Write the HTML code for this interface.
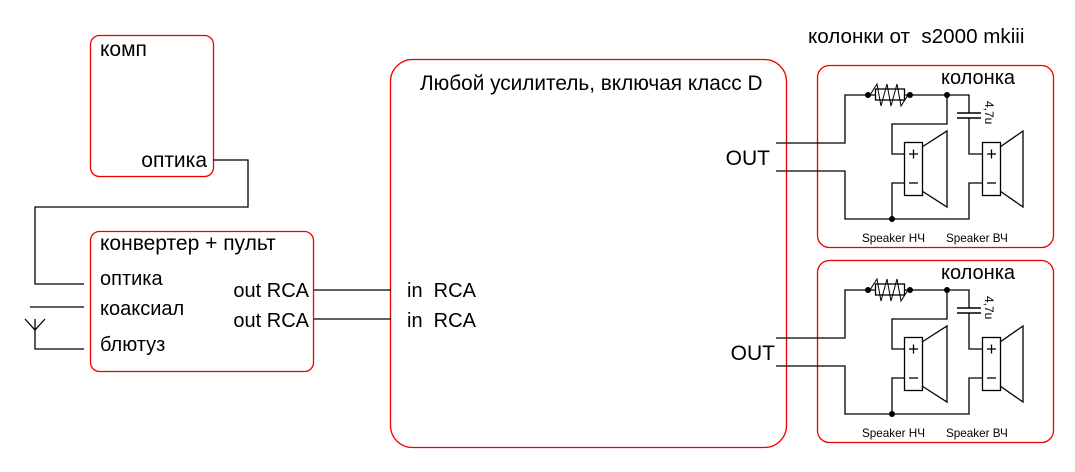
<!DOCTYPE html>
<html><head><meta charset="utf-8"><style>
html,body{margin:0;padding:0;background:#fff;}
svg{display:block;font-family:"Liberation Sans",sans-serif;}
text{white-space:pre;}
</style></head><body>
<svg width="1075" height="472" viewBox="0 0 1075 472" xmlns="http://www.w3.org/2000/svg">
<defs>
<g id="spk" stroke="#000" stroke-width="1.3" fill="none">
  <rect x="817.5" y="65.5" width="236" height="182" rx="12" stroke="#e00"/>
  <polyline points="776,143 845,143 845,95 947,95 969,95 969,113"/>
  <polyline points="776,171 845,171 845,219 969,219 969,183 982,183"/>
  <polyline points="947,95 947,124 892,124 892,154 904,154"/>
  <polyline points="904,183 892,183 892,219"/>
  <polyline points="969,118 969,154 982,154"/>
  <line x1="957" y1="113" x2="981" y2="113" stroke-width="1.5"/>
  <line x1="957" y1="118" x2="981" y2="118" stroke-width="1.5"/>
  <rect x="875.5" y="89" width="29" height="11" fill="#fff"/>
  <polyline points="870,95 877,84 881,106 887,84 891,106 897,84 901,106 908,95" stroke-width="1"/>
  <rect x="904.5" y="142.5" width="18" height="53"/>
  <polyline points="922,147 947,131 947,207 922,191"/>
  <rect x="982.5" y="142.5" width="18" height="53"/>
  <polyline points="1000,147 1023,131 1023,207 1000,191"/>
  <line x1="909" y1="154" x2="918" y2="154"/><line x1="913.5" y1="149.5" x2="913.5" y2="158.5"/>
  <line x1="909" y1="183" x2="918" y2="183"/>
  <line x1="987" y1="154" x2="996" y2="154"/><line x1="991.5" y1="149.5" x2="991.5" y2="158.5"/>
  <line x1="987" y1="183" x2="996" y2="183"/>
  <g fill="#000" stroke="none">
    <circle cx="868" cy="95" r="3"/><circle cx="910" cy="95" r="3"/><circle cx="947" cy="95" r="3"/><circle cx="892" cy="219" r="3"/>
  </g>
  <g stroke="none" fill="#000">
    <text x="941" y="84" font-size="20">колонка</text>
    <text x="862" y="242" font-size="11.7">Speaker НЧ</text>
    <text x="946" y="242" font-size="11.7">Speaker ВЧ</text>
    <text transform="translate(985,101) rotate(90)" font-size="12">4,7u</text>
  </g>
</g>
</defs>
<g fill="none" stroke="#e00" stroke-width="1.3">
  <rect x="90.5" y="35.5" width="123" height="141" rx="9"/>
  <rect x="90.5" y="231.5" width="223" height="140" rx="9"/>
  <rect x="390.5" y="59.5" width="396" height="388" rx="22"/>
</g>
<g fill="none" stroke="#000" stroke-width="1.3">
  <polyline points="213,160 248,160 248,207 35,207 35,284 84,284"/>
  <line x1="30" y1="307" x2="84" y2="307"/>
  <polyline points="25,319 35,330 45,319"/>
  <polyline points="35,319 35,349 84,349"/>
  <line x1="314" y1="290" x2="391" y2="290"/>
  <line x1="314" y1="319" x2="391" y2="319"/>
</g>
<use href="#spk"/>
<use href="#spk" transform="translate(0,195)"/>
<g fill="#000">
  <text x="100" y="56" font-size="21">комп</text>
  <text x="207" y="167" font-size="21" text-anchor="end">оптика</text>
  <text x="100" y="250" font-size="21">конвертер + пульт</text>
  <text x="100" y="285" font-size="20">оптика</text>
  <text x="100" y="315" font-size="20">коаксиал</text>
  <text x="100" y="351" font-size="20">блютуз</text>
  <text x="309" y="297" font-size="20" text-anchor="end">out RCA</text>
  <text x="309" y="327" font-size="20" text-anchor="end">out RCA</text>
  <text x="407" y="297" font-size="20" xml:space="preserve">in  RCA</text>
  <text x="407" y="327" font-size="20" xml:space="preserve">in  RCA</text>
  <text x="420" y="90" font-size="20.8">Любой усилитель, включая класс D</text>
  <text x="770" y="165" font-size="21" text-anchor="end">OUT</text>
  <text x="775" y="360" font-size="21" text-anchor="end">OUT</text>
  <text x="808" y="43" font-size="20.6" xml:space="preserve">колонки от  s2000 mkiii</text>
</g>
</svg>
</body></html>
